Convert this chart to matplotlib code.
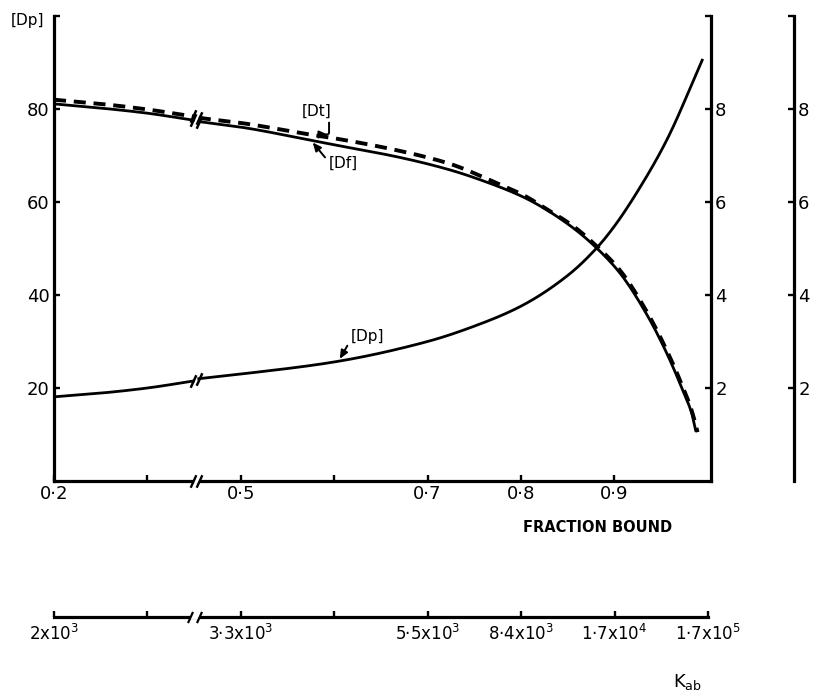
import numpy as np
import matplotlib
matplotlib.use("Agg")
import matplotlib.pyplot as plt
from matplotlib.path import Path

plt.rcParams['font.family'] = ['DejaVu Sans']
plt.rcParams['mathtext.fontset'] = 'dejavusans'

# ---------------- data (x = position on the broken "fraction bound" scale) -------------
frac_tick_pos = [0, 1, 2, 3, 4, 5, 6]
frac_tick_labels = ['0·2', '', '0·5', '', '0·7', '0·8', '0·9']
kab_tick_pos = [0, 1, 2, 3, 4, 5, 6, 7]
kab_tick_labels = [r'2x10$^3$', '', r'3·3x10$^3$', '', r'5·5x10$^3$',
                   r'8·4x10$^3$', r'1·7x10$^4$', r'1·7x10$^5$']
left_ticks = [20, 40, 60, 80, 100]
left_labels = ['20', '40', '60', '80', '']
right_ticks = [2, 4, 6, 8, 10]
right_labels = ['2', '4', '6', '8', '']

df_x = [0, 0.5, 1.0, 1.49, 1.55, 2.0, 2.77, 3.0, 3.7, 4.24, 4.67, 5.0, 5.2,
        5.56, 5.81, 6.06, 6.35, 6.56, 6.73, 6.83, 6.87]
df_y = [81.1, 80.2, 79.1, 77.6, 77.3, 76.1, 73.2, 72.3, 69.6, 66.9, 64.0, 61.3, 59.2,
        54.4, 50.1, 44.7, 35.7, 27.5, 19.6, 14.4, 10.9]

dt_x = [0, 0.5, 1.0, 1.49, 1.55, 2.0, 2.77, 3.0, 3.7, 4.24, 4.67, 5.06, 5.24,
        5.56, 5.81, 6.06, 6.35, 6.56, 6.73, 6.83, 6.89]
dt_y = [82.0, 81.1, 79.9, 78.4, 78.1, 77.0, 74.4, 73.7, 71.0, 68.2, 64.7, 61.1, 58.9,
        54.8, 50.5, 45.3, 36.3, 28.1, 20.3, 15.0, 10.5]

dp_x = [0, 0.5, 1.0, 1.49, 1.55, 2.0, 3.0, 4.0, 4.5, 5.0, 5.5, 5.81,
        6.0, 6.27, 6.56, 6.94]
dp_y = [18.1, 18.9, 20.0, 21.5, 22.0, 23.0, 25.6, 30.0, 33.3, 37.6, 44.2, 50.1,
        54.8, 63.0, 73.3, 90.5]

BREAK_L, BREAK_R = 1.49, 1.55

# ---------------- figure ----------------
W, H = 815, 693
fig = plt.figure(figsize=(W / 100, H / 100), dpi=100)
ax_left, ax_right, ax_bot, ax_top = 54, 711, 481, 16
ax = fig.add_axes([ax_left / W, 1 - ax_bot / H, (ax_right - ax_left) / W, (ax_bot - ax_top) / H])
ax.set_xlim(0, (ax_right - ax_left) / 93.4)
ax.set_ylim(0, 100)

slash = Path([(-0.45, -1), (0.45, 1)], [Path.MOVETO, Path.LINETO])


def smooth(xs, ys, lo, hi):
    xs = np.asarray(xs, float)
    ys = np.asarray(ys, float)
    m = (xs >= lo) & (xs <= hi)
    xm, ym = xs[m], ys[m]
    xx = np.linspace(xm[0], xm[-1], 300)
    n = len(xm)
    d = np.diff(ym) / np.diff(xm)
    slopes = np.zeros(n)
    slopes[0] = d[0]
    slopes[-1] = d[-1]
    for i in range(1, n - 1):
        if d[i - 1] * d[i] <= 0:
            slopes[i] = 0
        else:
            w1 = 2 * (xm[i + 1] - xm[i]) + (xm[i] - xm[i - 1])
            w2 = (xm[i + 1] - xm[i]) + 2 * (xm[i] - xm[i - 1])
            slopes[i] = (w1 + w2) / (w1 / d[i - 1] + w2 / d[i])
    yy = np.empty_like(xx)
    for j, x in enumerate(xx):
        k = min(max(np.searchsorted(xm, x) - 1, 0), n - 2)
        h = xm[k + 1] - xm[k]
        t = (x - xm[k]) / h
        h00 = 2 * t**3 - 3 * t**2 + 1
        h10 = t**3 - 2 * t**2 + t
        h01 = -2 * t**3 + 3 * t**2
        h11 = t**3 - t**2
        yy[j] = h00 * ym[k] + h10 * h * slopes[k] + h01 * ym[k + 1] + h11 * h * slopes[k + 1]
    return xx, yy


def draw_curve(xs, ys, **kw):
    for lo, hi in [(-1, BREAK_L), (BREAK_R, 99)]:
        xx, yy = smooth(xs, ys, lo, hi)
        ax.plot(xx, yy, **kw)
    for b in (BREAK_L, BREAK_R):
        ax.plot([b], [np.interp(b, xs, ys)], marker=slash, ms=9, mew=1.8,
                color='k', linestyle='none')


draw_curve(df_x, df_y, color='k', lw=2.0)
draw_curve(dt_x, dt_y, color='k', lw=2.8, linestyle=(0, (3.1, 2.0)))
draw_curve(dp_x, dp_y, color='k', lw=2.0)

# annotations
ap = dict(arrowstyle='-|>,head_length=0.45,head_width=0.2', lw=1.4, color='k',
          shrinkA=1, shrinkB=0)
ax.annotate('[Dt]', xy=(2.93, np.interp(2.93, dt_x, dt_y) + 0.6), xytext=(-8, 17),
            textcoords='offset points', ha='center', va='center', fontsize=11,
            arrowprops=dict(ap, relpos=(0.92, 0.1),
                            connectionstyle='angle,angleA=90,angleB=0,rad=2'))
ax.annotate('[Df]', xy=(2.77, np.interp(2.77, df_x, df_y) - 0.4), xytext=(22, -15),
            textcoords='offset points', ha='center', va='center', fontsize=11,
            arrowprops=dict(ap, relpos=(0, 0.6)))
ax.annotate('[Dp]', xy=(3.06, np.interp(3.06, dp_x, dp_y) + 0.4), xytext=(20, 16),
            textcoords='offset points', ha='center', va='center', fontsize=11,
            arrowprops=dict(ap, relpos=(0, 0.3)))

# main axis styling
for s in ('top', 'right'):
    ax.spines[s].set_visible(False)
for s in ('left', 'bottom'):
    ax.spines[s].set_linewidth(2.3)
ax.set_xticks(frac_tick_pos)
ax.set_xticklabels(frac_tick_labels)
ax.set_yticks(left_ticks)
ax.set_yticklabels(left_labels)
ax.tick_params(axis='both', direction='in', length=4, width=1.7, labelsize=13, pad=3)

# x-axis break
ax.plot([BREAK_L, BREAK_R], [0, 0], color='white', lw=3, transform=ax.get_xaxis_transform(),
        clip_on=False, zorder=3, solid_capstyle='butt')
ax.plot([BREAK_L, BREAK_R], [0, 0], marker=slash, ms=9, mew=1.7, color='k', linestyle='none',
        transform=ax.get_xaxis_transform(), clip_on=False, zorder=4)

# right axis (0-10)
ax2 = ax.twinx()
ax2.set_ylim(0, 10)
for s in ('top', 'left', 'bottom'):
    ax2.spines[s].set_visible(False)
ax2.spines['right'].set_linewidth(2.3)
ax2.set_yticks(right_ticks)
ax2.set_yticklabels(right_labels)
ax2.tick_params(axis='y', direction='in', length=4, width=1.7, labelsize=13, pad=3)

# far right axis (0-10)
ax3 = ax.twinx()
ax3.set_ylim(0, 10)
ax3.spines['right'].set_position(('axes', (794 - ax_left) / (ax_right - ax_left)))
for s in ('top', 'left', 'bottom'):
    ax3.spines[s].set_visible(False)
ax3.spines['right'].set_linewidth(2.3)
ax3.set_yticks(right_ticks)
ax3.set_yticklabels(right_labels)
ax3.tick_params(axis='y', direction='in', length=4, width=1.7, labelsize=13, pad=3)
ax3.patch.set_visible(False)

# K_ab axis
kab_y = 617
axk = fig.add_axes([ax_left / W, 1 - kab_y / H, (708 - ax_left) / W, 0.001])
axk.set_xlim(0, 7)
axk.set_yticks([])
for s in ('top', 'left', 'right'):
    axk.spines[s].set_visible(False)
axk.spines['bottom'].set_linewidth(2.3)
axk.patch.set_visible(False)
axk.set_xticks(kab_tick_pos)
axk.set_xticklabels(kab_tick_labels)
axk.tick_params(axis='x', direction='in', length=4, width=1.7, labelsize=12, pad=5)
axk.plot([BREAK_L - 0.03, BREAK_R], [0, 0], color='white', lw=3,
         transform=axk.get_xaxis_transform(), clip_on=False, zorder=3, solid_capstyle='butt')
axk.plot([BREAK_L - 0.03, BREAK_R], [0, 0], marker=slash, ms=8, mew=1.6, color='k',
         linestyle='none', transform=axk.get_xaxis_transform(), clip_on=False, zorder=4)

# texts
fig.text(27 / W, 1 - 21 / H, '[Dp]', fontsize=11, ha='center', va='center')
fig.text(598 / W, 1 - 527 / H, 'FRACTION BOUND', fontsize=10.5, fontweight='bold',
         ha='center', va='center')
fig.text(688 / W, 1 - 682 / H, r'K$_{\mathrm{ab}}$', fontsize=13, ha='center', va='center')

fig.savefig('out.png', dpi=100, facecolor='white')
